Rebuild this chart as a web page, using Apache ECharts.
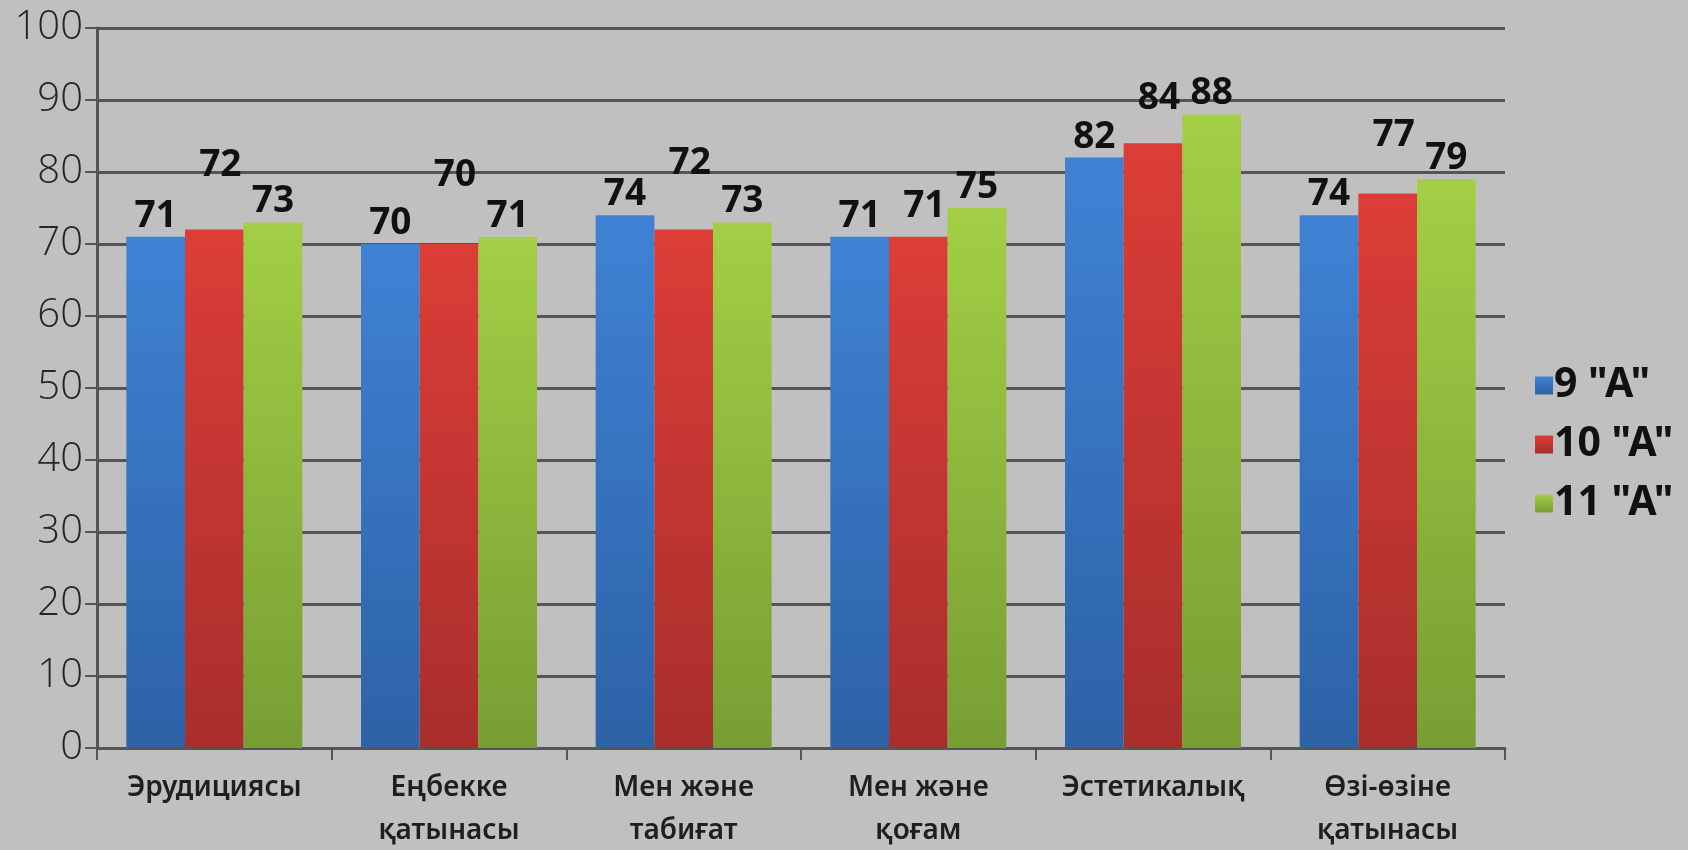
<!DOCTYPE html>
<html>
<head>
<meta charset="utf-8">
<script src="https://cdn.jsdelivr.net/npm/echarts@6/dist/echarts.min.js"></script>
<style>
html,body{margin:0;padding:0;background:#c0c0c0;}
#main{width:1688px;height:850px;}
</style>
</head>
<body>
<div id="main"></div>
<script>
const categories = ['Эрудициясы', 'Еңбекке\nқатынасы', 'Мен және\nтабиғат', 'Мен және\nқоғам', 'Эстетикалық', 'Өзі-өзіне\nқатынасы'];
const seriesNames = ['9 "А"', '10 "А"', '11 "А"'];
const values9A = [71, 70, 74, 71, 82, 74];
const values10A = [72, 70, 72, 71, 84, 77];
const values11A = [73, 71, 73, 75, 88, 79];
const yTicks = { min: 0, max: 100, interval: 10 };

// label placement (layout only): extra lift of the 10 "А" value labels, px
const labelLift10A = [44, 48, 46, 10, 24, 38];

const palettes = [
  ['#3f82d4', '#2d62a6'],
  ['#dc3d37', '#a82e2c'],
  ['#a2cf45', '#779e33']
];
const allValues = [values9A, values10A, values11A];

const chart = echarts.init(document.getElementById('main'));
chart.setOption({
  backgroundColor: '#c0c0c0',
  animation: false,
  grid: { left: 97, right: 183, top: 28, bottom: 102, containLabel: false, outerBoundsMode: 'none' },
  legend: {
    orient: 'vertical',
    left: 1530,
    top: 360,
    itemWidth: 18,
    itemHeight: 18,
    itemGap: 18,
    icon: 'rect',
    textStyle: { fontFamily: 'Noto Sans', fontSize: 41, fontWeight: 'bold', color: '#111', padding: [0, 0, 0, -4] },
    data: seriesNames
  },
  xAxis: {
    type: 'category',
    data: categories,
    axisLine: { lineStyle: { color: '#555', width: 3 } },
    axisTick: { show: true, length: 12, lineStyle: { color: '#555', width: 2 } },
    axisLabel: { fontFamily: 'Noto Sans', fontSize: 28, fontWeight: 600, color: '#1f1f1f', margin: 19, lineHeight: 43, interval: 0 }
  },
  yAxis: {
    type: 'value',
    min: yTicks.min,
    max: yTicks.max,
    interval: yTicks.interval,
    axisLine: { show: true, lineStyle: { color: '#555', width: 3 } },
    axisTick: { show: true, length: 12, lineStyle: { color: '#555', width: 2 } },
    splitLine: { lineStyle: { color: '#555', width: 3 } },
    axisLabel: { fontFamily: 'Open Sans', fontSize: 40, fontWeight: 300, color: '#262626', margin: 14 }
  },
  series: allValues.map((vals, i) => ({
    name: seriesNames[i],
    type: 'bar',
    data: vals.map((v, j) => i === 1 ? { value: v, label: { offset: [6, -labelLift10A[j]] } } : v),
    barGap: '0%',
    barCategoryGap: '25%',
    itemStyle: {
      color: new echarts.graphic.LinearGradient(0, 0, 0, 1, [
        { offset: 0, color: palettes[i][0] },
        { offset: 1, color: palettes[i][1] }
      ])
    },
    label: {
      show: true,
      position: 'top',
      distance: 2,
      fontFamily: 'Noto Sans',
      fontSize: 37,
      fontWeight: 'bold',
      color: '#111'
    }
  }))
});
</script>
</body>
</html>
